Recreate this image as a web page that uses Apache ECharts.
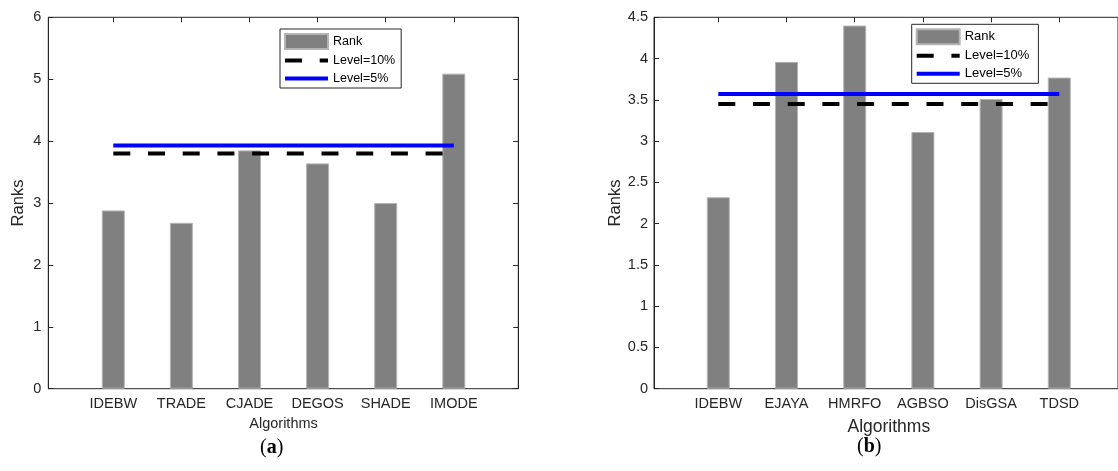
<!DOCTYPE html>
<html>
<head>
<meta charset="utf-8">
<script src="https://cdn.jsdelivr.net/npm/echarts@6/dist/echarts.min.js"></script>
<style>
html,body{margin:0;padding:0;background:#fff;}
#chart{width:1118px;height:471px;}
</style>
</head>
<body>
<div id="chart"></div>
<script>
// ---- data ----
const catsA = ['IDEBW', 'TRADE', 'CJADE', 'DEGOS', 'SHADE', 'IMODE'];
const rankA = [2.88, 2.68, 3.85, 3.64, 3.00, 5.09];
const level10A = [3.80, 3.80, 3.80, 3.80, 3.80, 3.80];
const level5A = [3.93, 3.93, 3.93, 3.93, 3.93, 3.93];
const yMaxA = 6, yStepA = 1;

const catsB = ['IDEBW', 'EJAYA', 'HMRFO', 'AGBSO', 'DisGSA', 'TDSD'];
const rankB = [2.32, 3.96, 4.40, 3.11, 3.51, 3.77];
const level10B = [3.45, 3.45, 3.45, 3.45, 3.45, 3.45];
const level5B = [3.57, 3.57, 3.57, 3.57, 3.57, 3.57];
const yMaxB = 4.5, yStepB = 0.5;

const seriesNames = ['Rank', 'Level=10%', 'Level=5%'];
const xName = 'Algorithms', yName = 'Ranks';

// ---- styles ----
const FONT = 'Liberation Sans, Arial, sans-serif';
const AX = '#262626';
const BAR = '#808080';
const DASH = [17, 17.7];

const chart = echarts.init(document.getElementById('chart'), null, {renderer: 'canvas'});

function frameY(gi, max, step, pos, labels, margin) {
  return {
    type: 'value', gridIndex: gi, min: 0, max: max, interval: step, position: pos,
    axisLine: {show: true, lineStyle: {color: AX, width: 1}},
    axisTick: {show: true, inside: true, length: 5, lineStyle: {color: AX}},
    axisLabel: {show: labels, color: AX, fontFamily: FONT, fontSize: 14.5, margin: margin},
    splitLine: {show: false}
  };
}
function hiddenY(gi, max) {
  return {type: 'value', gridIndex: gi, min: 0, max: max, show: false, splitLine: {show: false}};
}
function catX(gi, cats, pos, labels, nameSize, nameGap) {
  const o = {
    type: 'category', gridIndex: gi, data: cats, position: pos, boundaryGap: true,
    axisLine: {show: false},
    axisTick: {show: true, inside: true, length: 5, alignWithLabel: true, interval: 0, lineStyle: {color: AX}},
    axisLabel: {show: labels, interval: 0, color: AX, fontFamily: FONT, fontSize: 14.5, margin: 8},
    splitLine: {show: false}
  };
  if (labels) {
    o.name = xName; o.nameLocation = 'middle'; o.nameGap = nameGap;
    o.nameTextStyle = {color: AX, fontFamily: FONT, fontSize: nameSize};
  }
  return o;
}
function legendAt(left, top, fs, padRight) {
  return {
    show: true, orient: 'vertical', left: left, top: top,
    data: [
      {name: seriesNames[0], icon: 'rect'},
      {name: seriesNames[1], itemStyle: {opacity: 0}, lineStyle: {color: '#000', width: 4, type: DASH, cap: 'butt'}},
      {name: seriesNames[2], itemStyle: {opacity: 0}, lineStyle: {color: '#0000ff', width: 4}}
    ],
    selectedMode: false,
    itemWidth: 43, itemHeight: 15, itemGap: 3,
    padding: [4, padRight, 2, 3],
    borderColor: AX, borderWidth: 1, backgroundColor: '#fff',
    textStyle: {color: '#000', fontFamily: FONT, fontSize: fs, lineHeight: 15}
  };
}
function seriesFor(xi, yi, rank, l10, l5) {
  return [
    {name: seriesNames[0], type: 'bar', xAxisIndex: xi, yAxisIndex: yi, data: rank, barWidth: 23,
     itemStyle: {color: BAR, borderColor: '#b4b4b4', borderWidth: 1}, z: 2, silent: true},
    {name: seriesNames[1], type: 'line', xAxisIndex: xi, yAxisIndex: yi, data: l10, symbol: 'none',
     lineStyle: {color: '#000', width: 4, type: DASH, cap: 'butt'}, itemStyle: {color: '#000'}, z: 3, silent: true},
    {name: seriesNames[2], type: 'line', xAxisIndex: xi, yAxisIndex: yi, data: l5, symbol: 'none',
     lineStyle: {color: '#0000ff', width: 4}, itemStyle: {color: '#0000ff'}, z: 4, silent: true}
  ];
}
function caption(letter, left, top) {
  return {type: 'text', left: left, top: top, style: {text: '{p|(}{b|' + letter + '}{p|)}', rich: {
    p: {fontFamily: 'Liberation Serif, serif', fontSize: 20, fill: '#000', color: '#000'},
    b: {fontFamily: 'Liberation Serif, serif', fontSize: 20, fontWeight: 'bold', fill: '#000', color: '#000'}}}};
}

const option = {
  animation: false,
  backgroundColor: '#fff',
  grid: [
    {left: 48.3, top: 17.3, width: 470, height: 371.4, show: true, borderColor: AX, borderWidth: 1, backgroundColor: 'transparent'},
    {left: 79.25, top: 17.3, width: 408.6, height: 371.4},
    {left: 654, top: 17.3, width: 470, height: 371.4, show: true, borderColor: AX, borderWidth: 1, backgroundColor: 'transparent'},
    {left: 684.2, top: 17.3, width: 409.2, height: 371.4}
  ],
  xAxis: [
    {type: 'value', gridIndex: 0, show: false, splitLine: {show: false}},
    catX(1, catsA, 'bottom', true, 14.5, 26),
    catX(1, catsA, 'top', false),
    {type: 'value', gridIndex: 2, show: false, splitLine: {show: false}},
    catX(3, catsB, 'bottom', true, 17.5, 29),
    catX(3, catsB, 'top', false)
  ],
  yAxis: [
    Object.assign(frameY(0, yMaxA, yStepA, 'left', true, 7),
      {name: yName, nameLocation: 'middle', nameGap: 21, nameTextStyle: {color: AX, fontFamily: FONT, fontSize: 16.5}}),
    frameY(0, yMaxA, yStepA, 'right', false, 7),
    hiddenY(1, yMaxA),
    Object.assign(frameY(2, yMaxB, yStepB, 'left', true, 6),
      {name: yName, nameLocation: 'middle', nameGap: 27, nameTextStyle: {color: AX, fontFamily: FONT, fontSize: 16.5}}),
    hiddenY(3, yMaxB)
  ],
  legend: [legendAt(280, 29, 12.5, 6), legendAt(911.7, 24.3, 13, 9)],
  series: [].concat(
    seriesFor(1, 2, rankA, level10A, level5A),
    seriesFor(4, 4, rankB, level10B, level5B)
  ),
  graphic: [caption('a', 260, 438), caption('b', 857, 437)]
};
chart.setOption(option);
</script>
</body>
</html>
